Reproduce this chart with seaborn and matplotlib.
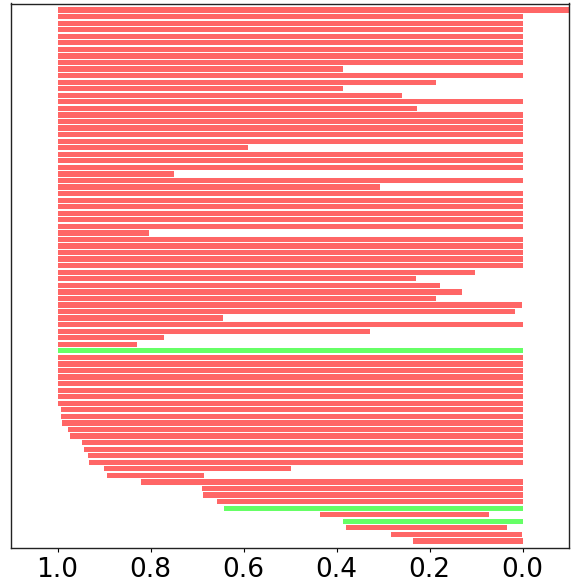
import matplotlib
matplotlib.use("Agg")
from matplotlib import pyplot as plt
import seaborn as sns

# left edge (larger value) and right edge (smaller value) of each bar, top to bottom
starts = [
    1.0, 1.0, 1.0, 1.0, 1.0, 1.0, 1.0, 1.0, 1.0, 1.0,
    1.0, 1.0, 1.0, 1.0, 1.0, 1.0, 1.0, 1.0, 1.0, 1.0,
    1.0, 1.0, 1.0, 1.0, 1.0, 1.0, 1.0, 1.0, 1.0, 1.0,
    1.0, 1.0, 1.0, 1.0, 1.0, 1.0, 1.0, 1.0, 1.0, 1.0,
    1.0, 1.0, 1.0, 1.0, 1.0, 1.0, 1.0, 1.0, 1.0, 1.0,
    1.0, 1.0, 1.0, 1.0, 0.998, 0.998, 0.998, 0.998, 0.998, 0.998,
    0.998, 0.993, 0.993, 0.991, 0.978, 0.974, 0.948, 0.944, 0.935, 0.933,
    0.901, 0.894, 0.821, 0.690, 0.688, 0.658, 0.643, 0.435, 0.385, 0.380,
    0.282, 0.236,
]
ends = [
    -0.15, 0.0, 0.0, 0.0, 0.0, 0.0, 0.0, 0.0, 0.0, 0.385,
    0.0, 0.187, 0.385, 0.259, 0.0, 0.226, 0.0, 0.0, 0.0, 0.0,
    0.0, 0.591, 0.0, 0.0, 0.0, 0.750, 0.0, 0.307, 0.0, 0.0,
    0.0, 0.0, 0.0, 0.0, 0.804, 0.0, 0.0, 0.0, 0.0, 0.0,
    0.103, 0.229, 0.178, 0.131, 0.187, 0.002, 0.017, 0.645, 0.0, 0.327,
    0.772, 0.830, 0.0, 0.0, 0.0, 0.0, 0.0, 0.0, 0.0, 0.0,
    0.0, 0.0, 0.0, 0.0, 0.0, 0.0, 0.0, 0.0, 0.0, 0.0,
    0.498, 0.684, 0.0, 0.0, 0.0, 0.0, 0.0, 0.071, 0.0, 0.034,
    0.002, 0.0,
]
# bars drawn in green (0-based index from the top)
green_rows = [52, 76, 78]

RED = "#ff6666"
GREEN = "#66ff66"

sns.set_style("white")

fig = plt.figure(figsize=(5.75, 5.85), dpi=100)
ax = fig.add_axes([11 / 575, 1 - 547.5 / 585, 558 / 575, 544 / 585])

n = len(starts)
colors = [GREEN if i in green_rows else RED for i in range(n)]
widths = [s - e for s, e in zip(starts, ends)]
ax.barh(range(n), widths, left=ends, height=0.8, color=colors, linewidth=0)

ax.set_xlim(1.1, -0.1)
ax.set_ylim(n, -1)
ax.set_yticks([])
ax.set_xticks([1.0, 0.8, 0.6, 0.4, 0.2, 0.0])
ax.tick_params(axis="x", bottom=True, length=3, width=0.8, labelsize=19, colors="black")
for sp in ax.spines.values():
    sp.set_color("#222222")
    sp.set_linewidth(1.0)

fig.savefig("out.png", dpi=100)
